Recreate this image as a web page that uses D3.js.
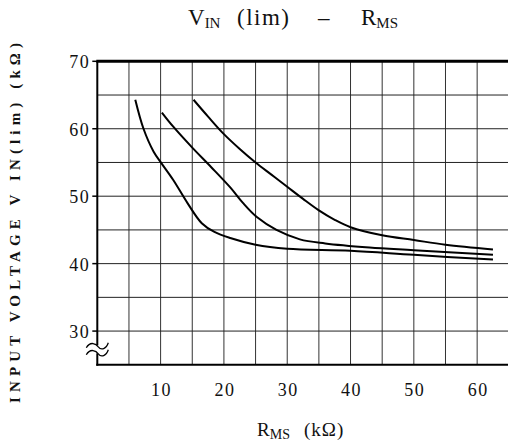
<!DOCTYPE html>
<html>
<head>
<meta charset="utf-8">
<script src="https://cdn.jsdelivr.net/npm/d3@7"></script>
<style>
html,body{margin:0;padding:0;background:#fff;}
svg{display:block;}
</style>
</head>
<body>
<svg id="chart" width="508" height="445"></svg>
<script>
// ---- data ----
const xTicks = [10, 20, 30, 40, 50, 60];
const yTicks = [30, 40, 50, 60, 70];
const xGrid = [5, 10, 15, 20, 25, 30, 35, 40, 45, 50, 55, 60];
const yGrid = [30, 35, 40, 45, 50, 55, 60, 65];

const rmsA = [6.0, 7.3, 8.9, 10.2, 12.0, 14.3, 16.5, 18.5, 21.0, 25.0, 30.0, 40.0, 50.0, 62.5];
const vinA = [64.3, 60.0, 56.6, 54.8, 52.4, 48.9, 46.0, 44.7, 43.8, 42.8, 42.2, 41.9, 41.3, 40.6];

const rmsB = [10.2, 12.0, 15.0, 18.0, 21.0, 23.0, 25.2, 28.3, 32.0, 36.0, 43.0, 50.0, 62.5];
const vinB = [62.4, 60.3, 57.2, 54.3, 51.3, 49.0, 46.9, 45.0, 43.6, 43.0, 42.4, 42.0, 41.3];

const rmsC = [15.2, 17.5, 20.0, 22.5, 25.0, 27.5, 30.0, 32.5, 35.0, 37.5, 40.0, 45.0, 50.0, 55.0, 62.5];
const vinC = [64.3, 61.8, 59.2, 57.0, 55.0, 53.2, 51.4, 49.6, 47.9, 46.5, 45.4, 44.2, 43.5, 42.8, 42.1];

const series = [[rmsA, vinA], [rmsB, vinB], [rmsC, vinC]];

// ---- layout ----
const svg = d3.select("#chart");
const x = d3.scaleLinear().domain([0, 65]).range([97.3, 508.8]);
const y = d3.scaleLinear().domain([25, 70]).range([364.8, 61.3]);
const serif = "'Liberation Serif', 'DejaVu Serif', serif";

// grid
svg.append("g").selectAll("line").data(xGrid).join("line")
  .attr("x1", d => x(d)).attr("x2", d => x(d))
  .attr("y1", y(70)).attr("y2", y(25))
  .attr("stroke", "#333").attr("stroke-width", 1);
svg.append("g").selectAll("line").data(yGrid).join("line")
  .attr("x1", x(0)).attr("x2", 508)
  .attr("y1", d => y(d)).attr("y2", d => y(d))
  .attr("stroke", "#222").attr("stroke-width", 1);

// frame
svg.append("line").attr("x1", x(0) - 1).attr("x2", 508).attr("y1", y(70)).attr("y2", y(70))
  .attr("stroke", "#000").attr("stroke-width", 3);
svg.append("line").attr("x1", x(0) - 1).attr("x2", 508).attr("y1", y(25)).attr("y2", y(25))
  .attr("stroke", "#000").attr("stroke-width", 2);
svg.append("line").attr("x1", x(0)).attr("x2", x(0)).attr("y1", y(70)).attr("y2", y(25) + 1)
  .attr("stroke", "#000").attr("stroke-width", 2);

// y ticks
svg.append("g").selectAll("line").data(yTicks).join("line")
  .attr("x1", x(0) - 5).attr("x2", x(0))
  .attr("y1", d => y(d)).attr("y2", d => y(d))
  .attr("stroke", "#000").attr("stroke-width", 1.5);
svg.append("g").selectAll("text").data(yTicks).join("text")
  .attr("x", x(0) - 7).attr("y", d => y(d) + 7)
  .attr("text-anchor", "end")
  .attr("font-family", serif).attr("font-size", 18).attr("letter-spacing", 1.5)
  .attr("fill", "#111")
  .text(d => d);

// axis break symbol
const by = y(27.3);
svg.append("rect").attr("x", x(0) - 2).attr("y", by - 4).attr("width", 4).attr("height", 8).attr("fill", "#fff");
[by - 3.5, by + 3.5].forEach(yy => {
  const p = d3.path();
  p.moveTo(x(0) - 11, yy + 2);
  p.bezierCurveTo(x(0) - 7, yy - 5, x(0) - 1, yy - 2, x(0) + 1, yy + 1);
  p.bezierCurveTo(x(0) + 4, yy + 5, x(0) + 9, yy + 3, x(0) + 11, yy - 3);
  svg.append("path").attr("d", p.toString()).attr("fill", "none")
    .attr("stroke", "#000").attr("stroke-width", 1.3);
});

// x tick labels
svg.append("g").selectAll("text").data(xTicks).join("text")
  .attr("x", d => x(d) + 1).attr("y", 396)
  .attr("text-anchor", "middle")
  .attr("font-family", serif).attr("font-size", 18).attr("letter-spacing", 1.5)
  .attr("fill", "#111")
  .text(d => d);

// curves
const line = d3.line().x(d => x(d[0])).y(d => y(d[1])).curve(d3.curveCatmullRom.alpha(0.5));
series.forEach(([xs, ys]) => {
  const pts = xs.map((v, i) => [v, ys[i]]);
  svg.append("path").datum(pts).attr("d", line)
    .attr("fill", "none").attr("stroke", "#000").attr("stroke-width", 2);
});

// title
const t = svg.append("text").attr("y", 25).attr("font-family", serif).attr("font-size", 23).attr("fill", "#111");
t.append("tspan").attr("x", 188).text("V");
t.append("tspan").attr("font-size", 15).attr("dy", 3).text("IN");
t.append("tspan").attr("x", 237).attr("dy", -3).attr("letter-spacing", 1.5).text("(lim)");
t.append("tspan").attr("x", 318).text("–");
t.append("tspan").attr("x", 361).text("R");
t.append("tspan").attr("font-size", 15).attr("dy", 3).text("MS");

// x label
const xl = svg.append("text").attr("y", 436).attr("font-family", serif).attr("font-size", 19).attr("fill", "#111");
xl.append("tspan").attr("x", 257).text("R");
xl.append("tspan").attr("font-size", 14).attr("dy", 3).text("MS");
xl.append("tspan").attr("x", 304).attr("dy", -3).attr("letter-spacing", 1).text("(kΩ)");

// y label
svg.append("text")
  .attr("transform", "translate(20,223) rotate(-90)")
  .attr("text-anchor", "middle")
  .attr("font-family", serif).attr("font-size", 15).attr("font-weight", "bold")
  .attr("fill", "#111")
  .attr("textLength", 360).attr("lengthAdjust", "spacing")
  .text("INPUT VOLTAGE V IN(lim) (kΩ)");
</script>
</body>
</html>
